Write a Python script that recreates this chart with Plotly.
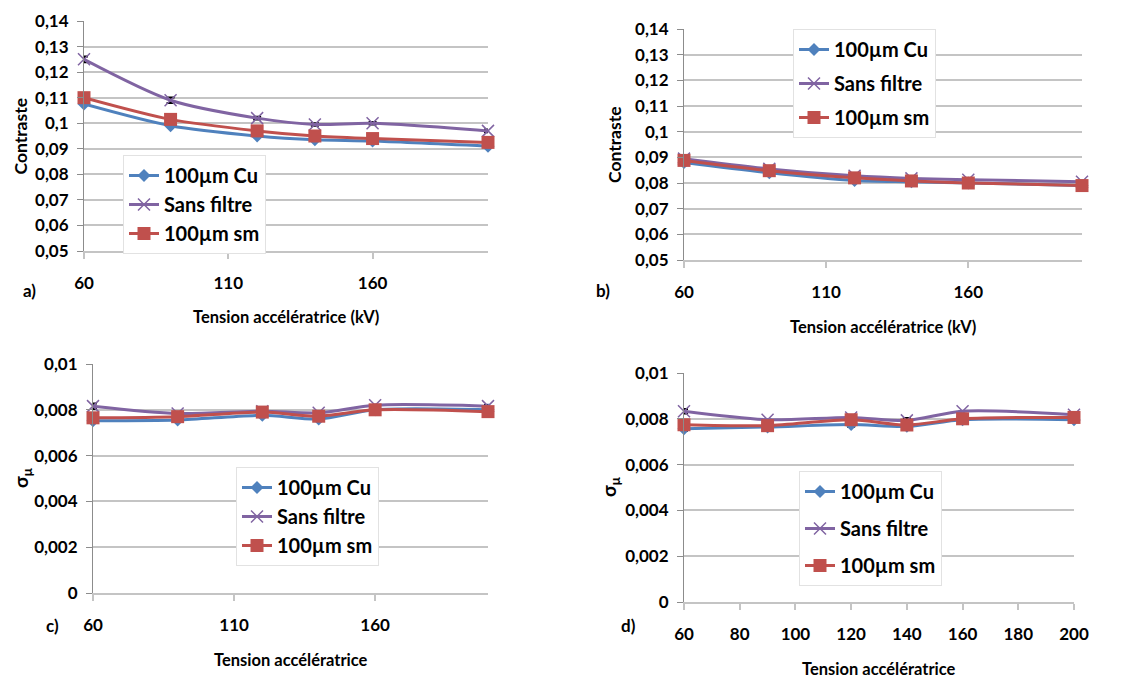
import plotly.graph_objects as go

# ---------------- data ----------------
tension = [60, 90, 120, 140, 160, 200]
series_names = ["100µm Cu", "Sans filtre", "100µm sm"]

# a) Contraste
a_cu = [0.1075, 0.099, 0.095, 0.0935, 0.093, 0.091]
a_sans = [0.125, 0.109, 0.102, 0.0995, 0.100, 0.097]
a_sm = [0.110, 0.1015, 0.097, 0.095, 0.094, 0.0925]
a_sans_err = [0.0011, 0.0011, 0.0005, 0.0005, 0.0005, 0.0005]

# b) Contraste
b_cu = [0.088, 0.084, 0.081, 0.0805, 0.080, 0.079]
b_sans = [0.0895, 0.0855, 0.0828, 0.0818, 0.0813, 0.0805]
b_sm = [0.0888, 0.0848, 0.082, 0.0808, 0.080, 0.079]

# c) sigma mu
c_cu = [0.00752, 0.00755, 0.00776, 0.0076, 0.0080, 0.0080]
c_sans = [0.00816, 0.00784, 0.00794, 0.00787, 0.0082, 0.00816]
c_sm = [0.00765, 0.0077, 0.0079, 0.00772, 0.0080, 0.00792]
c_sans_err = [0.00012, 0, 0, 0, 0, 0.00005]

# d) sigma mu
d_cu = [0.00757, 0.00764, 0.00775, 0.00767, 0.00796, 0.00796]
d_sans = [0.00833, 0.00796, 0.00806, 0.00793, 0.00833, 0.00818]
d_sm = [0.00774, 0.0077, 0.00796, 0.00773, 0.0080, 0.00806]
d_sans_err = [0.0001, 0, 0, 0.0001, 0, 0]
d_cu_err = [0.0001, 0, 0.0001, 0, 0, 0]

# ---------------- styles ----------------
W, H = 1138, 680
OFF = 8  # page body margin
FONT = "Lato"
C_CU, C_SANS, C_SM = "#4F81BD", "#8064A2", "#C0504D"
GRID = "#C4C4C4"
AXIS = "#8C8C8C"

def px_x(p):
    return (p - OFF) / W

def px_y(p):
    return 1 - (p - OFF) / H

fig = go.Figure()

panels = [
    # (xaxis, yaxis, legend, cu, sans, sm, sans_err, cu_err)
    ("x", "y", "legend", a_cu, a_sans, a_sm, a_sans_err, None),
    ("x2", "y2", "legend2", b_cu, b_sans, b_sm, None, None),
    ("x3", "y3", "legend3", c_cu, c_sans, c_sm, c_sans_err, None),
    ("x4", "y4", "legend4", d_cu, d_sans, d_sm, d_sans_err, d_cu_err),
]

for xa, ya, lg, cu, sans, sm, sans_err, cu_err in panels:
    specs = [
        (series_names[0], cu, C_CU, dict(symbol="diamond", size=10, color=C_CU), cu_err),
        (series_names[1], sans, C_SANS, dict(symbol="x-thin", size=12, color=C_SANS,
                                              line=dict(color=C_SANS, width=1.5)), sans_err),
        (series_names[2], sm, C_SM, dict(symbol="square", size=13, color=C_SM), None),
    ]
    for i, (name, vals, col, mk, err) in enumerate(specs):
        tr = dict(
            x=tension, y=vals, name=name, mode="lines+markers",
            line=dict(color=col, width=3, shape="spline", smoothing=0.8),
            marker=mk, xaxis=xa, yaxis=ya, legend=lg,
            legendgroup=lg + str(i), cliponaxis=False,
        )
        if err is not None:
            tr["error_y"] = dict(type="data", array=err, symmetric=True,
                                 color="black", thickness=2, width=4)
        fig.add_trace(go.Scatter(**tr))

tickfont = dict(family=FONT, size=17, color="black", weight="bold")

def xaxis(domain, anchor, dtick):
    return dict(domain=domain, anchor=anchor, range=[60, 200], tick0=60, dtick=dtick,
                showgrid=False, zeroline=False, showline=True, linecolor=GRID, linewidth=1.5,
                ticks="outside", ticklen=6, tickcolor=GRID, tickwidth=1.5,
                tickfont=tickfont, ticklabelstandoff=10, automargin=False)

def yaxis(domain, anchor, rng, dtick, fmt):
    return dict(domain=domain, anchor=anchor, range=rng, dtick=dtick, tickformat=fmt,
                showgrid=True, gridcolor=GRID, gridwidth=1.5, zeroline=False,
                showline=True, linecolor=AXIS, linewidth=1,
                ticks="outside", ticklen=6, tickcolor=AXIS,
                tickfont=tickfont, ticklabelstandoff=5, automargin=False)

fig.update_layout(
    width=W, height=H,
    margin=dict(l=0, r=0, t=0, b=0, pad=0, autoexpand=False),
    paper_bgcolor="white", plot_bgcolor="white",
    separators=", ",
    font=dict(family=FONT, color="black"),
    xaxis=xaxis([px_x(84), px_x(488)], "y", 50),
    yaxis=yaxis([px_y(251), px_y(21)], "x", [0.05, 0.14], 0.01, ".2~f"),
    xaxis2=xaxis([px_x(684), px_x(1082)], "y2", 50),
    yaxis2=yaxis([px_y(260), px_y(29)], "x2", [0.05, 0.14], 0.01, ".2~f"),
    xaxis3=xaxis([px_x(93), px_x(488)], "y3", 50),
    yaxis3=yaxis([px_y(593), px_y(364)], "x3", [0, 0.01], 0.002, ".3~f"),
    xaxis4=xaxis([px_x(684), px_x(1074)], "y4", 20),
    yaxis4=yaxis([px_y(602), px_y(373)], "x4", [0, 0.01], 0.002, ".3~f"),
)

legend_font = dict(family=FONT, size=20, color="black", weight="bold")

def legend(x, y, gap):
    return dict(x=px_x(x), y=px_y(y), xanchor="left", yanchor="top",
                bgcolor="white", bordercolor="#E2E2E2", borderwidth=1,
                font=legend_font, itemwidth=30, tracegroupgap=gap,
                orientation="v")

fig.update_layout(
    legend=legend(123, 155, 0),
    legend2=legend(793, 29, 5),
    legend3=legend(236, 467, 0),
    legend4=legend(799, 471, 8),
)

title_font = dict(family=FONT, size=16.5, color="black", weight="bold")
contr_font = dict(family=FONT, size=17.5, color="black", weight="bold")
sigma_font = dict(family=FONT, size=19, color="black", weight="bold")
label_font = dict(family=FONT, size=17, color="black", weight="bold")

# (text, x px, y px, angle, font, xanchor)
annots = [
    ("Contraste", OFF, 137, -90, contr_font, "left"),
    ("Contraste", 615, 145, -90, contr_font, "center"),
    ("σ<sub>μ</sub>", OFF, 478, -90, sigma_font, "left"),
    ("σ<sub>μ</sub>", 610, 487, -90, sigma_font, "center"),
    ("Tension accélératrice (kV)", 286, 317, 0, title_font, "center"),
    ("Tension accélératrice (kV)", 883, 327, 0, title_font, "center"),
    ("Tension accélératrice", 291, 660, 0, title_font, "center"),
    ("Tension accélératrice", 879, 669, 0, title_font, "center"),
    ("a)", 29, 290, 0, label_font, "center"),
    ("b)", 603, 290, 0, label_font, "center"),
    ("c)", 52, 625, 0, label_font, "center"),
    ("d)", 628, 625, 0, label_font, "center"),
]
for text, x, y, ang, f, xanc in annots:
    fig.add_annotation(text=text, x=px_x(x), y=px_y(y), xref="paper", yref="paper",
                       showarrow=False, textangle=ang, font=f, borderpad=0,
                       xanchor=xanc, yanchor="middle")

fig.write_html("out.html")
